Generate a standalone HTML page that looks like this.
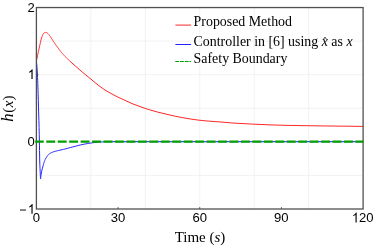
<!DOCTYPE html>
<html><head><meta charset="utf-8"><title>plot</title>
<style>
html,body{margin:0;padding:0;background:#fff;}
body{width:374px;height:246px;overflow:hidden;}
svg{display:block;will-change:transform;}
.sans text{font-family:"Liberation Sans",sans-serif;font-size:13.1px;fill:#000;}
.serif{font-family:"Liberation Serif",serif;fill:#000;}
</style></head><body>
<svg width="374" height="246" viewBox="0 0 374 246">
<g stroke="#efefef" stroke-width="0.8" fill="none"><line x1="90.85" y1="7.55" x2="90.85" y2="209.0"/><line x1="145.30" y1="7.55" x2="145.30" y2="209.0"/><line x1="199.75" y1="7.55" x2="199.75" y2="209.0"/><line x1="254.20" y1="7.55" x2="254.20" y2="209.0"/><line x1="308.65" y1="7.55" x2="308.65" y2="209.0"/><line x1="36.4" y1="41.12" x2="363.1" y2="41.12"/><line x1="36.4" y1="74.70" x2="363.1" y2="74.70"/><line x1="36.4" y1="108.28" x2="363.1" y2="108.28"/><line x1="36.4" y1="141.85" x2="363.1" y2="141.85"/><line x1="36.4" y1="175.43" x2="363.1" y2="175.43"/></g>
<path d="M36.40,61.20 L36.80,59.23 L37.20,57.28 L37.60,55.38 L38.00,53.50 L38.40,51.67 L38.80,49.89 L39.20,48.10 L39.60,46.27 L40.00,44.35 L40.40,42.48 L40.80,40.80 L41.20,39.25 L41.60,37.81 L42.00,36.57 L42.40,35.54 L42.80,34.61 L43.20,33.87 L43.60,33.38 L44.00,33.01 L44.40,32.75 L44.80,32.58 L45.20,32.45 L45.60,32.40 L46.00,32.45 L46.40,32.58 L46.80,32.74 L47.20,33.00 L47.60,33.33 L48.00,33.69 L48.40,34.11 L48.80,34.58 L49.20,35.08 L49.60,35.62 L50.00,36.16 L50.40,36.72 L50.80,37.31 L51.20,37.94 L51.60,38.57 L52.00,39.21 L52.40,39.84 L52.80,40.45 L53.20,41.05 L53.60,41.66 L54.00,42.25 L54.40,42.85 L54.80,43.43 L55.20,44.01 L55.60,44.58 L56.00,45.14 L56.40,45.69 L56.80,46.24 L57.20,46.78 L57.60,47.32 L58.00,47.86 L58.40,48.41 L58.80,48.96 L59.20,49.51 L59.60,50.06 L60.00,50.60 L60.40,51.12 L60.80,51.62 L61.20,52.11 L61.60,52.58 L62.00,53.04 L62.40,53.50 L62.80,53.94 L63.20,54.38 L63.60,54.82 L64.00,55.24 L64.40,55.66 L64.80,56.08 L65.20,56.49 L65.60,56.89 L66.00,57.30 L66.40,57.71 L66.80,58.11 L67.20,58.52 L67.60,58.92 L68.00,59.32 L68.40,59.71 L68.80,60.10 L69.20,60.47 L69.60,60.85 L70.00,61.22 L72.00,63.03 L74.00,64.82 L76.00,66.58 L78.00,68.34 L80.00,70.08 L82.00,71.80 L84.00,73.49 L86.00,75.15 L88.00,76.78 L90.00,78.36 L92.00,80.00 L94.00,81.72 L96.00,83.37 L98.00,84.95 L100.00,86.48 L102.00,87.94 L104.00,89.35 L106.00,90.65 L108.00,91.81 L110.00,92.90 L112.00,93.98 L114.00,95.08 L116.00,96.15 L118.00,97.13 L120.00,98.05 L122.00,98.95 L124.00,99.88 L126.00,100.80 L128.00,101.73 L130.00,102.69 L132.00,103.55 L134.00,104.34 L136.00,105.10 L138.00,105.84 L140.00,106.55 L142.00,107.26 L144.00,107.98 L146.00,108.67 L148.00,109.31 L150.00,109.90 L152.00,110.47 L154.00,111.05 L156.00,111.62 L158.00,112.16 L160.00,112.65 L162.00,113.13 L164.00,113.60 L166.00,114.08 L168.00,114.57 L170.00,115.04 L172.00,115.50 L174.00,115.94 L176.00,116.37 L178.00,116.79 L180.00,117.18 L182.00,117.55 L184.00,117.91 L186.00,118.25 L188.00,118.58 L190.00,118.91 L192.00,119.22 L194.00,119.51 L196.00,119.79 L198.00,120.04 L200.00,120.27 L202.00,120.49 L204.00,120.69 L206.00,120.88 L208.00,121.06 L210.00,121.22 L212.00,121.38 L214.00,121.53 L216.00,121.67 L218.00,121.81 L220.00,121.95 L222.00,122.10 L224.00,122.28 L226.00,122.45 L228.00,122.63 L230.00,122.80 L232.00,122.94 L234.00,123.07 L236.00,123.20 L238.00,123.32 L240.00,123.43 L242.00,123.54 L244.00,123.65 L246.00,123.76 L248.00,123.86 L250.00,123.96 L252.00,124.06 L254.00,124.16 L256.00,124.26 L258.00,124.35 L260.00,124.45 L262.00,124.54 L264.00,124.62 L266.00,124.70 L268.00,124.78 L270.00,124.86 L272.00,124.93 L274.00,124.99 L276.00,125.05 L278.00,125.11 L280.00,125.17 L282.00,125.22 L284.00,125.27 L286.00,125.31 L288.00,125.36 L290.00,125.40 L292.00,125.44 L294.00,125.48 L296.00,125.51 L298.00,125.55 L300.00,125.58 L302.00,125.62 L304.00,125.65 L306.00,125.68 L308.00,125.71 L310.00,125.74 L312.00,125.77 L314.00,125.80 L316.00,125.83 L318.00,125.86 L320.00,125.88 L322.00,125.91 L324.00,125.94 L326.00,125.96 L328.00,125.99 L330.00,126.02 L332.00,126.04 L334.00,126.06 L336.00,126.09 L338.00,126.11 L340.00,126.13 L342.00,126.16 L344.00,126.18 L346.00,126.20 L348.00,126.22 L350.00,126.25 L352.00,126.27 L354.00,126.29 L356.00,126.32 L358.00,126.34 L360.00,126.36 L362.00,126.39 L363.10,126.40" fill="none" stroke="#ff2828" stroke-width="1.0" stroke-linejoin="round"/>
<path d="M36.40,61.20 L36.60,63.03 L36.80,65.05 L36.98,67.23 L37.15,69.55 L37.30,72.00 L37.44,74.66 L37.56,77.56 L37.68,80.63 L37.79,83.80 L37.90,87.00 L38.00,90.22 L38.10,93.51 L38.20,96.90 L38.30,100.39 L38.40,104.00 L38.52,107.83 L38.64,111.88 L38.77,116.02 L38.89,120.10 L39.00,124.00 L39.09,127.64 L39.17,131.12 L39.25,134.55 L39.33,138.04 L39.40,141.70 L39.47,145.86 L39.54,150.47 L39.61,155.02 L39.68,159.02 L39.75,162.00 L39.82,164.07 L39.89,165.77 L39.96,167.24 L40.03,168.61 L40.10,170.00 L40.17,171.50 L40.23,173.04 L40.30,174.48 L40.35,175.71 L40.40,176.60 L40.43,177.28 L40.46,177.90 L40.49,178.42 L40.51,178.77 L40.55,178.90 L40.60,178.70 L40.66,178.17 L40.73,177.44 L40.81,176.61 L40.90,175.80 L41.02,174.96 L41.17,173.99 L41.35,172.96 L41.55,171.91 L41.75,170.90 L41.97,169.92 L42.22,168.94 L42.48,167.96 L42.75,167.01 L43.00,166.10 L43.25,165.19 L43.51,164.28 L43.76,163.41 L43.99,162.63 L44.20,162.00 L44.37,161.52 L44.52,161.14 L44.66,160.79 L44.81,160.43 L45.00,160.00 L45.25,159.46 L45.56,158.84 L45.90,158.19 L46.26,157.56 L46.60,157.00 L46.92,156.52 L47.22,156.07 L47.54,155.65 L47.89,155.23 L48.30,154.80 L48.79,154.35 L49.37,153.89 L50.03,153.43 L50.74,153.00 L51.50,152.60 L52.34,152.24 L53.28,151.91 L54.29,151.59 L55.35,151.29 L56.40,151.00 L57.50,150.72 L58.68,150.44 L59.86,150.18 L60.99,149.93 L62.00,149.70 L62.84,149.50 L63.57,149.33 L64.27,149.17 L65.05,148.98 L66.00,148.75 L67.26,148.42 L68.81,148.00 L70.54,147.53 L72.31,147.05 L74.00,146.60 L75.62,146.18 L77.24,145.76 L78.86,145.35 L80.48,144.96 L82.10,144.60 L83.77,144.26 L85.50,143.93 L87.19,143.63 L88.76,143.36 L90.10,143.15 L91.19,142.99 L92.13,142.85 L93.00,142.73 L93.89,142.62 L94.90,142.50 L96.06,142.38 L97.31,142.25 L98.63,142.14 L99.97,142.03 L101.30,141.95 L102.62,141.88 L103.94,141.82 L105.28,141.77 L106.64,141.73 L108.00,141.70 L363.1,141.7" fill="none" stroke="#2020ff" stroke-width="1.0" stroke-linejoin="round"/>
<g stroke="#333" stroke-width="0.8" fill="none"><line x1="118.08" y1="209.0" x2="118.08" y2="207.1"/><line x1="199.75" y1="209.0" x2="199.75" y2="207.1"/><line x1="281.43" y1="209.0" x2="281.43" y2="207.1"/><line x1="36.4" y1="74.70" x2="38.3" y2="74.70"/><line x1="36.4" y1="141.85" x2="38.3" y2="141.85"/></g>
<rect x="36.4" y="7.55" width="326.70" height="201.45" fill="none" stroke="#505050" stroke-width="1.3"/>
<line x1="35.2" y1="141.7" x2="363.40000000000003" y2="141.7" stroke="#00a000" stroke-width="2.3" stroke-dasharray="8.9 2.55" stroke-dashoffset="0.35"/>
<g class="sans"><text transform="translate(36.30,222.40) rotate(0.02) scale(1,1.045)" text-anchor="middle">0</text><text transform="translate(117.98,222.40) rotate(0.02) scale(1,1.045)" text-anchor="middle">30</text><text transform="translate(199.65,222.40) rotate(0.02) scale(1,1.045)" text-anchor="middle">60</text><text transform="translate(281.32,222.40) rotate(0.02) scale(1,1.045)" text-anchor="middle">90</text><path d="M763 0H583V1147Q518 1085 412.5 1023Q307 961 223 930V1104Q374 1175 487 1276Q600 1377 647 1472H763Z" transform="translate(351.77,222.40) scale(0.00640,-0.00668)" fill="#000"/><text transform="translate(359.06,222.40) rotate(0.02) scale(1,1.045)" text-anchor="start">20</text><text transform="translate(34.70,11.95) rotate(0.02) scale(1,1.045)" text-anchor="end">2</text><text transform="translate(34.70,146.25) rotate(0.02) scale(1,1.045)" text-anchor="end">0</text><path d="M763 0H583V1147Q518 1085 412.5 1023Q307 961 223 930V1104Q374 1175 487 1276Q600 1377 647 1472H763Z" transform="translate(27.72,79.10) scale(0.00640,-0.00668)" fill="#000"/><path d="M763 0H583V1147Q518 1085 412.5 1023Q307 961 223 930V1104Q374 1175 487 1276Q600 1377 647 1472H763Z" transform="translate(27.72,213.80) scale(0.00640,-0.00668)" fill="#000"/><rect x="20.0" y="209.55" width="6.0" height="0.95" fill="#000"/></g>
<line x1="175.4" y1="25.1" x2="191.1" y2="25.1" stroke="#ff2828" stroke-width="1.0"/>
<line x1="175.4" y1="44.5" x2="191.1" y2="44.5" stroke="#2020ff" stroke-width="1.0"/>
<line x1="175.3" y1="61.5" x2="191.0" y2="61.5" stroke="#00a000" stroke-width="1.1" stroke-dasharray="3.9 0.8"/>
<g class="serif" font-size="13.9px">
<text x="193.6" y="26.45">Proposed Method</text>
<text x="193.6" y="46.05">Controller in [6] using <tspan font-style="italic">x</tspan> as <tspan font-style="italic">x</tspan></text>
<text x="193.6" y="62.8">Safety Boundary</text>
<path d="M323.3,39.5 L325,37.15 L326.7,39.5" fill="none" stroke="#000" stroke-width="0.75"/>
</g>
<text class="serif" font-size="15px" x="200" y="242.1" text-anchor="middle">Time (<tspan font-style="italic">s</tspan>)</text>
<text class="serif" font-size="16.5px" font-style="italic" transform="translate(13.1,121.7) rotate(-90)">h</text>
<text class="serif" font-size="15px" transform="translate(13.0,112.8) rotate(-90)" x="0 5.5 12.2">(<tspan font-style="italic">x</tspan>)</text>
</svg>
</body></html>
